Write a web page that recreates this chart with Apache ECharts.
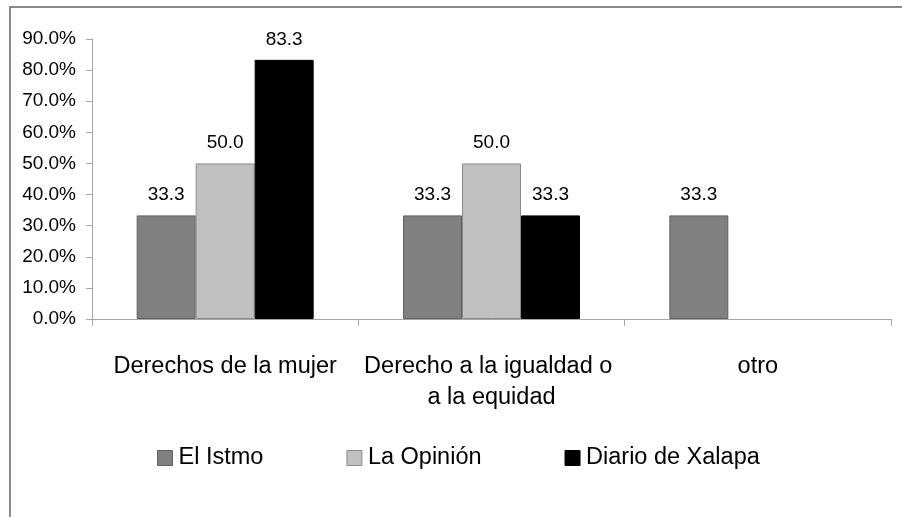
<!DOCTYPE html>
<head>
    <meta charset="utf-8">
    <title>ECharts Bar</title>
    <style>
        html, body, #echarts {
            margin: 0px;
            padding: 0px;
            height: 100%;
            width: 100%;
            background: #fff;
        }
        html { overflow: hidden; }
    </style>
</head>
<body>
    <div id="echarts"></div>
    <script src="https://cdn.jsdelivr.net/npm/echarts@6/dist/echarts.min.js"></script>
    <script type="text/javascript">
        // categorias del eje x
        var categories = ['Derechos de la mujer', 'Derecho a la igualdad o a la equidad', 'otro'];
        // periodicos (series)
        var seriesNames = ['El Istmo', 'La Opinión', 'Diario de Xalapa'];
        var elIstmo = [33.3, 33.3, 33.3];
        var laOpinion = [50.0, 50.0, null];
        var diarioXalapa = [83.3, 33.3, null];
        // etiquetas del eje y
        var yTicks = [0, 10, 20, 30, 40, 50, 60, 70, 80, 90];

        var font = "'Liberation Sans', sans-serif";
        var fills = ['#808080', '#c0c0c0', '#000000'];
        var borders = ['#5f5f5f', '#8a8a8a', '#000000'];

        var myChart = echarts.init(document.getElementById('echarts'));

        function makeSeries(i, data) {
            return {
                name: seriesNames[i],
                type: 'bar',
                data: data,
                barWidth: 59,
                barGap: '0%',
                itemStyle: { color: fills[i], borderColor: borders[i], borderWidth: 1 },
                label: {
                    show: true,
                    position: 'top',
                    distance: 11,
                    color: '#000',
                    fontFamily: font,
                    fontSize: 19,
                    formatter: function (p) { return p.value.toFixed(1); }
                }
            };
        }

        myChart.setOption({
            animation: false,
            textStyle: { fontFamily: font },
            //marco de la imagen
            graphic: [{
                type: 'rect',
                shape: { x: 10, y: 7, width: 1000, height: 1000 },
                style: { fill: 'none', stroke: '#8a8a8a', lineWidth: 2 }
            }],
            grid: { left: 92, right: 11, top: 39, bottom: 198 },
            legend: {
                data: seriesNames,
                top: 446,
                left: 157,
                padding: 0,
                itemWidth: 15,
                itemHeight: 15,
                itemGap: 83,
                icon: 'rect',
                itemStyle: { borderWidth: 1 },
                textStyle: { fontSize: 23.5, color: '#000', fontFamily: font, padding: [0, 0, 0, 1] }
            },
            xAxis: {
                type: 'category',
                data: categories,
                axisLine: { lineStyle: { color: '#a6a6a6', width: 1 } },
                axisTick: { show: true, length: 7, lineStyle: { color: '#a6a6a6' } },
                axisLabel: {
                    interval: 0,
                    color: '#000',
                    fontSize: 23.5,
                    margin: 32,
                    lineHeight: 31,
                    width: 258,
                    overflow: 'break'
                }
            },
            yAxis: {
                type: 'value',
                min: yTicks[0],
                max: yTicks[yTicks.length - 1],
                interval: 10,
                splitLine: { show: false },
                axisLine: { show: true, lineStyle: { color: '#a6a6a6', width: 1 } },
                axisTick: { show: true, length: 6, lineStyle: { color: '#a6a6a6' } },
                axisLabel: {
                    color: '#000',
                    fontSize: 19,
                    margin: 16,
                    formatter: function (v) { return v.toFixed(1) + '%'; }
                }
            },
            series: [
                makeSeries(0, elIstmo),
                makeSeries(1, laOpinion),
                makeSeries(2, diarioXalapa)
            ]
        });
    </script>
</body>
